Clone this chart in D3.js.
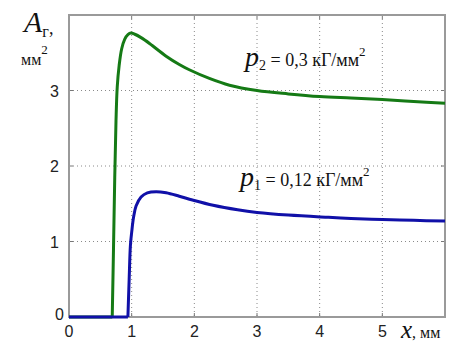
<!DOCTYPE html>
<html>
<head>
<meta charset="utf-8">
<script src="https://cdn.jsdelivr.net/npm/d3@7"></script>
<style>
  body { margin: 0; background: #fff; }
  .tick-label { font-family: Arial, "Liberation Sans", sans-serif; font-size: 16px; fill: #222; }
</style>
</head>
<body>
<div id="chart"></div>
<script>
// values
var xTicks = [0, 1, 2, 3, 4, 5],
    yTicks = [0, 1, 2, 3];

var p2X = [0, 0.69, 0.71, 0.73, 0.75, 0.77, 0.80, 0.84, 0.89, 0.94, 0.99, 1.05, 1.15, 1.29, 1.55, 1.76, 1.92, 2.24, 2.56, 3.0, 3.5, 4.0, 4.5, 5.0, 5.5, 6.0],
    p2Y = [0, 0, 0.9, 1.85, 2.6, 3.05, 3.33, 3.55, 3.68, 3.74, 3.76, 3.745, 3.70, 3.62, 3.455, 3.345, 3.275, 3.16, 3.07, 3.0, 2.955, 2.92, 2.90, 2.88, 2.855, 2.83];

var p1X = [0, 0.94, 0.96, 0.98, 1.0, 1.03, 1.07, 1.15, 1.25, 1.39, 1.55, 1.76, 1.97, 2.3, 2.69, 3.0, 3.5, 4.14, 4.5, 5.0, 5.5, 6.0],
    p1Y = [0, 0, 0.5, 0.95, 1.12, 1.32, 1.47, 1.59, 1.645, 1.66, 1.645, 1.60, 1.55, 1.48, 1.42, 1.385, 1.35, 1.32, 1.305, 1.29, 1.28, 1.27];

var SERIF = "'Liberation Serif', 'Times New Roman', 'DejaVu Serif', serif";

var W = 462, H = 351;
var margin = {top: 15, right: 17, bottom: 34, left: 69};
var width = W - margin.left - margin.right,
    height = H - margin.top - margin.bottom;

var svg = d3.select("#chart").append("svg")
    .attr("width", W)
    .attr("height", H);

var g = svg.append("g")
    .attr("transform", "translate(" + margin.left + "," + margin.top + ")");

var x = d3.scaleLinear().domain([0, 6]).range([0, width]),
    y = d3.scaleLinear().domain([0, 4]).range([height, 0]);

// dotted grid
g.selectAll(".vgrid")
    .data(xTicks.filter(function(d) { return d > 0; }))
    .enter().append("line")
    .attr("x1", function(d) { return x(d); })
    .attr("x2", function(d) { return x(d); })
    .attr("y1", 0).attr("y2", height)
    .attr("stroke", "#8a8a8a").attr("stroke-width", 1)
    .attr("stroke-dasharray", "1,3");

g.selectAll(".hgrid")
    .data(yTicks.filter(function(d) { return d > 0; }))
    .enter().append("line")
    .attr("y1", function(d) { return y(d); })
    .attr("y2", function(d) { return y(d); })
    .attr("x1", 0).attr("x2", width)
    .attr("stroke", "#8a8a8a").attr("stroke-width", 1)
    .attr("stroke-dasharray", "1,3");

// inward ticks on all sides
var tl = 4;
xTicks.forEach(function(d) {
  g.append("line").attr("x1", x(d)).attr("x2", x(d)).attr("y1", height).attr("y2", height - tl)
    .attr("stroke", "#777");
  g.append("line").attr("x1", x(d)).attr("x2", x(d)).attr("y1", 0).attr("y2", tl)
    .attr("stroke", "#777");
});
yTicks.forEach(function(d) {
  g.append("line").attr("y1", y(d)).attr("y2", y(d)).attr("x1", 0).attr("x2", tl)
    .attr("stroke", "#777");
  g.append("line").attr("y1", y(d)).attr("y2", y(d)).attr("x1", width).attr("x2", width - tl)
    .attr("stroke", "#777");
});

// frame (under the curves, so the zero segments show on top)
g.append("rect")
    .attr("width", width).attr("height", height)
    .attr("fill", "none")
    .attr("stroke", "#9a9a9a")
    .attr("stroke-width", 2);

// curves: flat zero part straight, the rest smoothed
var flat = d3.line()
    .x(function(d) { return x(d[0]); })
    .y(function(d) { return y(d[1]); });
var smooth = d3.line()
    .x(function(d) { return x(d[0]); })
    .y(function(d) { return y(d[1]); })
    .curve(d3.curveCatmullRom.alpha(0.5));

function drawSeries(xs, ys, color) {
  var pts = d3.zip(xs, ys);
  g.append("path")
    .attr("d", flat(pts.slice(0, 2)))
    .attr("fill", "none").attr("stroke", color).attr("stroke-width", 3);
  g.append("path")
    .attr("d", smooth(pts.slice(1)))
    .attr("fill", "none").attr("stroke", color).attr("stroke-width", 3);
}
drawSeries(p2X, p2Y, "#157a15");
drawSeries(p1X, p1Y, "#1010a8");

// tick labels
g.selectAll(".xl")
    .data(xTicks)
    .enter().append("text")
    .attr("class", "tick-label")
    .attr("x", function(d) { return x(d); })
    .attr("y", height + 20)
    .attr("text-anchor", "middle")
    .text(function(d) { return d; });

g.selectAll(".yl")
    .data(yTicks)
    .enter().append("text")
    .attr("class", "tick-label")
    .attr("x", function(d) { return d === 0 ? -5 : -10; })
    .attr("y", function(d) { return y(d) + (d === 0 ? 3 : 6); })
    .attr("text-anchor", "end")
    .text(function(d) { return d; });

// y axis title
var yt = svg.append("text").attr("font-family", SERIF).attr("fill", "#111").attr("x", 24).attr("y", 32);
yt.append("tspan").attr("font-style", "italic").attr("font-size", 30).text("A");
yt.append("tspan").attr("font-size", 16).attr("dy", 5).text("г");
yt.append("tspan").attr("font-size", 18).attr("dy", -3).text(",");

var yu = svg.append("text").attr("font-family", SERIF).attr("fill", "#111").attr("x", 21).attr("y", 65);
yu.append("tspan").attr("font-size", 16).text("мм");
yu.append("tspan").attr("font-size", 13).attr("dy", -11).text("2");

// x axis title
var xt = svg.append("text").attr("font-family", SERIF).attr("fill", "#111").attr("x", 401).attr("y", 338);
xt.append("tspan").attr("font-style", "italic").attr("font-size", 25).text("x");
xt.append("tspan").attr("font-size", 16).text(", мм");

// series labels
function pLabel(px, py, sub, val) {
  var t = svg.append("text").attr("font-family", SERIF).attr("fill", "#111").attr("x", px).attr("y", py);
  t.append("tspan").attr("font-style", "italic").attr("font-size", 28).text("p");
  t.append("tspan").attr("font-size", 14).attr("dy", 4).text(sub);
  t.append("tspan").attr("font-size", 18).attr("dy", -4).text(" = " + val + " кГ/мм");
  t.append("tspan").attr("font-size", 13).attr("dy", -10).text("2");
}
pLabel(245, 66, "2", "0,3");
pLabel(240, 186, "1", "0,12");
</script>
</body>
</html>
